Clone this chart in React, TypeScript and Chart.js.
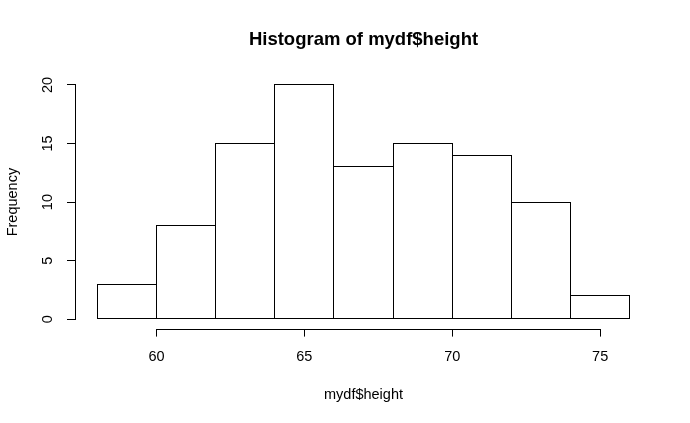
import React, { useEffect, useRef } from "react";
import { Chart, registerables } from "chart.js";

Chart.register(...registerables);

// ---- data ----
const binEdges = [58, 60, 62, 64, 66, 68, 70, 72, 74, 76];
const counts = [3, 8, 15, 20, 13, 15, 14, 10, 2];
const xTicks = [60, 65, 70, 75];
const yTicks = [0, 5, 10, 15, 20];
const titleText = "Histogram of mydf$height";
const xLabel = "mydf$height";
const yLabel = "Frequency";

const W = 690;
const H = 423;

const al = (p: number) => Math.floor(p) + 0.5;

const rAxes = {
  id: "rAxes",
  afterDatasetsDraw(chart: any) {
    const { ctx } = chart;
    const meta = chart.getDatasetMeta(0);
    ctx.save();
    ctx.strokeStyle = "#000";
    ctx.lineWidth = 1;
    meta.data.forEach((el: any) => {
      const { x, y, base, width } = el.getProps(["x", "y", "base", "width"], true);
      const l = al(x - width / 2);
      const r = al(x + width / 2);
      const t = al(y);
      const b = al(base);
      ctx.strokeRect(l, t, r - l, b - t);
    });
    ctx.restore();
  },
  afterDraw(chart: any) {
    const { ctx } = chart;
    const x = chart.scales.x;
    const y = chart.scales.y;
    const a2 = (p: number) => Math.round(p - 0.5) + 0.5;
    ctx.save();
    ctx.strokeStyle = "#000";
    ctx.lineWidth = 1;
    ctx.beginPath();
    const xy = Math.round(x.top) + 0.5;
    ctx.moveTo(a2(x.getPixelForValue(xTicks[0])), xy);
    ctx.lineTo(a2(x.getPixelForValue(xTicks[xTicks.length - 1])), xy);
    const yx = Math.round(y.right) - 0.5;
    ctx.moveTo(yx, a2(y.getPixelForValue(yTicks[0])));
    ctx.lineTo(yx, a2(y.getPixelForValue(yTicks[yTicks.length - 1])));
    ctx.stroke();
    ctx.restore();
  },
};

export default function App() {
  const ref = useRef<HTMLCanvasElement | null>(null);
  useEffect(() => {
    if (!ref.current) return;
    Chart.defaults.font.family = "'Liberation Sans', Arial, sans-serif";
    Chart.defaults.font.size = 14.5;
    Chart.defaults.color = "#000";
    const points = counts.map((c, i) => ({ x: (binEdges[i] + binEdges[i + 1]) / 2, y: c }));
    const chart = new Chart(ref.current, {
      type: "bar",
      data: {
        datasets: [
          {
            data: points as any,
            backgroundColor: "#ffffff",
            borderWidth: 0,
            inflateAmount: 0,
            barPercentage: 1,
            categoryPercentage: 1,
          } as any,
        ],
      },
      options: {
        responsive: false,
        maintainAspectRatio: false,
        animation: false,
        devicePixelRatio: 1,
        layout: { padding: { left: 0, right: 39, top: 0, bottom: 0 } },
        plugins: {
          legend: { display: false },
          tooltip: { enabled: false },
          title: {
            display: true,
            text: titleText,
            fullSize: false,
            color: "#000",
            font: { size: 18.5, weight: "bold" },
            padding: { top: 29.3, bottom: 24.1 },
          },
        },
        scales: {
          x: {
            type: "linear",
            position: "bottom",
            offset: false,
            min: 57.28,
            max: 76.72,
            afterBuildTicks: (s: any) => {
              s.ticks = xTicks.map((v) => ({ value: v }));
            },
            afterFit: (s: any) => {
              s.height = 94.4;
            },
            border: { display: false },
            grid: {
              display: true,
              offset: false,
              drawOnChartArea: false,
              drawTicks: true,
              tickLength: 8,
              tickColor: "#000",
              color: "#000",
            },
            ticks: { padding: 12.0, maxRotation: 0, minRotation: 0, color: "#000" },
            title: {
              display: true,
              text: xLabel,
              color: "#000",
              font: { size: 14.5 },
              padding: { top: 0, bottom: 19.3 },
            },
          },
          y: {
            type: "linear",
            position: "left",
            min: -0.8,
            max: 20.8,
            afterBuildTicks: (s: any) => {
              s.ticks = yTicks.map((v) => ({ value: v }));
            },
            afterFit: (s: any) => {
              s.width = 76;
            },
            border: { display: false },
            grid: {
              display: true,
              drawOnChartArea: false,
              drawTicks: true,
              tickLength: 9,
              tickColor: "#000",
              color: "#000",
            },
            ticks: {
              padding: 10.6,
              minRotation: 90,
              maxRotation: 90,
              crossAlign: "center",
              color: "#000",
            },
            title: {
              display: true,
              text: yLabel,
              color: "#000",
              font: { size: 14.5 },
              padding: { top: 3.8, bottom: 0 },
            },
          },
        },
      } as any,
      plugins: [rAxes],
    });
    return () => chart.destroy();
  }, []);
  return (
    <div style={{ position: "fixed", left: 0, top: 0, width: W, height: H, background: "#fff" }}>
      <canvas ref={ref} width={W} height={H} style={{ width: W, height: H, display: "block" }} />
    </div>
  );
}
